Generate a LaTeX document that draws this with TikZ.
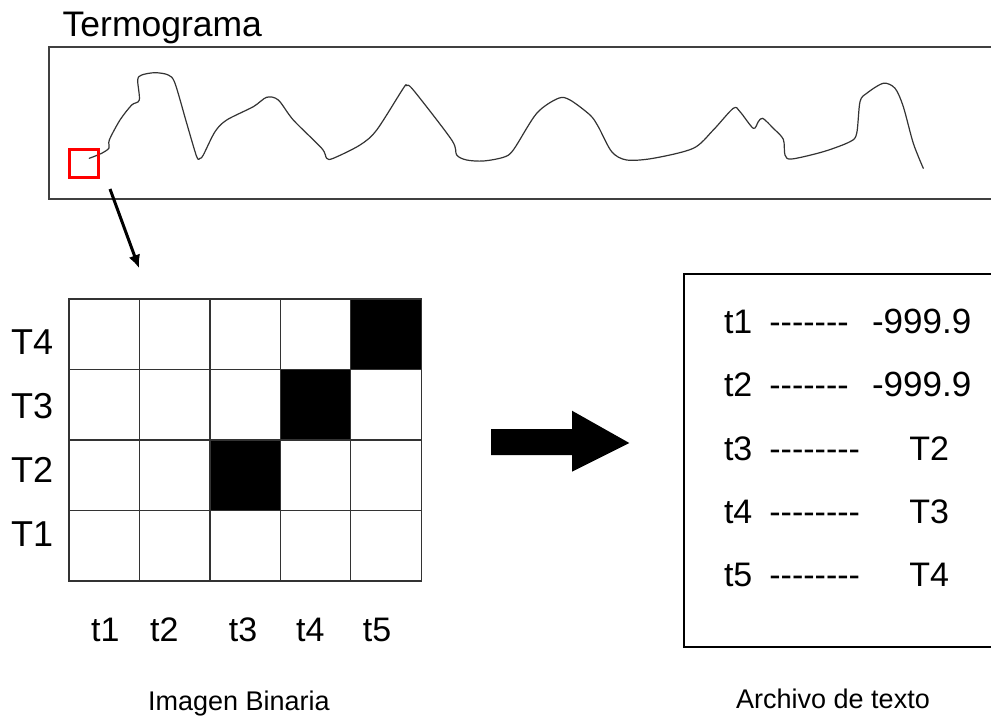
\documentclass[tikz,border=0pt]{standalone}
\usepackage{fontspec}
\setmainfont{Liberation Sans}
\usetikzlibrary{arrows.meta}
\def\hy{-\kern0pt}
\begin{document}
\begin{tikzpicture}[x=1pt,y=-1pt,
  lbl/.style={inner sep=0pt, anchor=base west, font=\fontsize{34}{40}\selectfont},
  rowlbl/.style={inner sep=0pt, anchor=base west, font=\fontsize{36}{40}\selectfont},
  capt/.style={inner sep=0pt, anchor=base, font=\fontsize{27}{30}\selectfont},
  frame/.style={draw=black!75, line width=1.6pt},
  cellbox/.style={draw=black!80, line width=1.3pt, minimum width=70.46pt, minimum height=70.5pt, inner sep=0pt},
  curvestyle/.style={draw=black!80, line width=1.2pt, line join=round, line cap=round},
]
\useasboundingbox[fill=white] (0,0) rectangle (991,720);

% Termograma
\node[lbl, font=\fontsize{35.5}{40}\selectfont] (title) at (62.5,36.7) {Termograma};
\draw[frame] (1000,47) -- (49,47) -- (49,199) -- (1000,199);
\draw[curvestyle] plot[smooth, tension=0.5] coordinates {
(89.3,158.3) (101.7,153.3) (109,148) (109.3,140) (120,120) (131.7,105) (139.3,100) (137.7,80) (141.7,75) (155,72.7) (168.3,75) (175,83.3) (186.7,123.3) (196.7,156.7) (200,158.3) (203.3,155) (215,131.7) (226.7,120) (253.3,106.7) (266.7,97.3) (278.3,100) (293.3,120) (321.7,148.3) (326.7,158.3) (333.3,158.3) (360,145) (376.7,130) (403.3,88.3) (406.7,85.7) (413.3,90) (451.7,140) (456.7,155) (466.7,160) (483.3,161) (503.3,157.3) (513.3,150) (536.7,113.3) (558.3,98.3) (570,100) (590,115) (598.3,126.7) (611.7,151.7) (626.7,160) (653.3,158.3) (693.3,148.3) (713.3,130) (733.3,108.3) (740,111.7) (753.3,128.3) (758.3,121.7) (762.7,118.3) (773.3,128.3) (783.3,139.3) (785,155) (791.7,159) (823.3,151.7) (850,141.7) (856.7,133.3) (860,101.7) (866.7,93.3) (883.3,83.3) (895,88.3) (903.3,106.7) (913.3,143.3) (923.3,168.3)};
\node[draw=red, line width=3pt, minimum width=29pt, minimum height=28pt, inner sep=0pt] (zoombox) at (84,163.5) {};

% zoom arrow
\coordinate (zs) at (110,189);
\coordinate (ze) at (139,268);
\draw[line width=3pt, -{Latex[length=13pt,width=12pt]}] (zs) -- (ze);

% binary image grid
\foreach \i in {1,...,5} {
  \foreach \j in {1,...,4} {
    \pgfmathtruncatemacro\blk{and(\i+\j==6,\j<4)}
    \ifnum\blk=1 \def\fc{black}\else\def\fc{white}\fi
    \node[cellbox, fill=\fc] (c\i\j) at ({69+(\i-0.5)*70.46},{299+(\j-0.5)*70.5}) {};
  }
}

\node[rowlbl] (rT4) at (11,354.3) {T4};
\node[rowlbl] (rT3) at (11,418.3) {T3};
\node[rowlbl] (rT2) at (11,482.3) {T2};
\node[rowlbl] (rT1) at (11,546.7) {T1};

\node[lbl] (ct1) at (91,641.7) {t1};
\node[lbl] (ct2) at (150,641.7) {t2};
\node[lbl] (ct3) at (228.7,641.7) {t3};
\node[lbl] (ct4) at (296,641.7) {t4};
\node[lbl] (ct5) at (362.7,641.7) {t5};

\node[capt] (cap1) at (239,710) {Imagen Binaria};

% big arrow
\fill[black] (491,429) -- (572,429) -- (572,410.7) -- (629.3,443) -- (572,471.7) -- (572,455) -- (491,455) -- cycle;

% text file
\draw[draw=black, line width=2pt] (1000,274) -- (684,274) -- (684,647.3) -- (1000,647.3);

\node[lbl] (a1) at (723.8,333.3) {t1};
\node[lbl] (b1) at (769.2,333.3) {\hy\hy\hy\hy\hy\hy-};
\node[lbl, font=\fontsize{35}{40}\selectfont] (v1) at (871.8,333.3) {-999.9};
\node[lbl] (a2) at (723.8,396.7) {t2};
\node[lbl] (b2) at (769.2,396.7) {\hy\hy\hy\hy\hy\hy-};
\node[lbl, font=\fontsize{35}{40}\selectfont] (v2) at (871.8,396.7) {-999.9};
\node[lbl] (a3) at (723.8,460) {t3};
\node[lbl] (b3) at (769.2,460) {\hy\hy\hy\hy\hy\hy\hy-};
\node[lbl] (v3) at (909.2,460) {T2};
\node[lbl] (a4) at (723.8,523.3) {t4};
\node[lbl] (b4) at (769.2,523.3) {\hy\hy\hy\hy\hy\hy\hy-};
\node[lbl] (v4) at (909.2,523.3) {T3};
\node[lbl] (a5) at (723.8,586.7) {t5};
\node[lbl] (b5) at (769.2,586.7) {\hy\hy\hy\hy\hy\hy\hy-};
\node[lbl] (v5) at (909.2,586.7) {T4};

\node[capt] (cap2) at (833,708.3) {Archivo de texto};
\end{tikzpicture}
\end{document}
